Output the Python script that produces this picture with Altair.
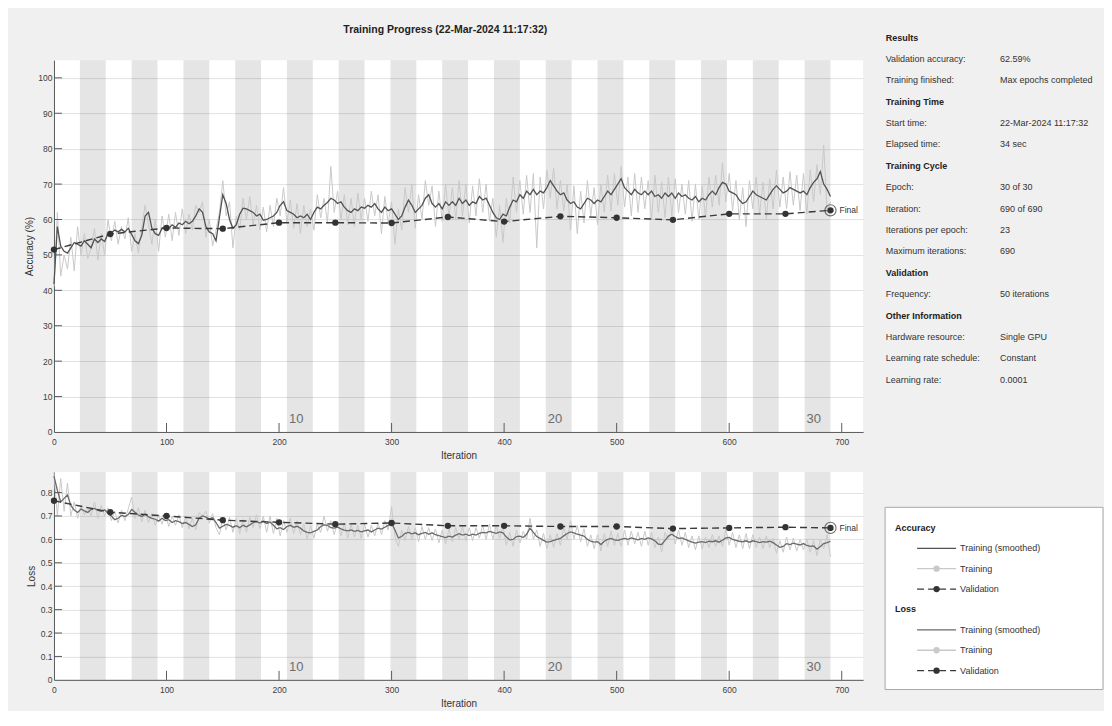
import altair as alt
import pandas as pd

TITLE = "Training Progress (22-Mar-2024 11:17:32)"

# training curves, one value every SAMPLE_STEP iterations (0 .. 690)
SAMPLE_STEP = 3
ACC_SMOOTH = [
    41.8, 58.0, 52.5, 51.0, 50.5, 52.0, 53.5, 53.0, 52.5, 54.0,
    53.0, 52.0, 54.5, 53.5, 54.5, 53.8, 56.0, 56.2, 57.0, 56.5,
    57.2, 56.5, 57.5, 55.8, 54.0, 53.2, 55.5, 61.0, 62.0, 57.5,
    56.0, 55.5, 57.5, 58.0, 57.5, 58.5, 57.8, 59.0, 58.5, 59.5,
    58.8, 59.5, 61.0, 63.0, 62.0, 58.0, 56.5, 56.0, 54.0, 60.5,
    67.0, 64.5, 60.0, 57.5, 58.5, 61.5, 63.2, 63.0, 62.5, 62.0,
    61.0, 61.5, 59.8, 60.0, 60.5, 61.0, 62.0, 64.0, 65.0, 62.5,
    62.0, 61.5, 60.5, 61.0, 60.5, 61.5, 60.0, 62.0, 63.5, 63.0,
    64.0, 64.8, 66.0, 65.5, 64.5, 65.0, 63.5, 62.5, 62.0, 63.0,
    62.5, 63.5, 63.2, 64.0, 63.5, 64.5, 63.0, 62.0, 63.5, 62.5,
    63.0, 61.5, 60.0, 61.0, 63.5, 65.5, 64.0, 62.0, 63.0, 64.0,
    66.0, 67.0, 64.5, 63.5, 64.5, 63.0, 65.0, 64.0, 65.0, 64.0,
    66.0, 64.5, 65.5, 64.0, 65.0, 64.5, 66.5, 65.5, 66.0, 64.0,
    62.0, 60.5, 60.0, 61.5, 61.0, 63.5, 65.5, 65.0, 67.0, 66.0,
    68.0, 67.0, 68.5, 67.0, 68.0, 67.5, 69.0, 71.0, 69.5, 68.0,
    67.0, 67.5, 65.5, 64.5, 65.0, 63.5, 63.0, 64.5, 66.0, 65.5,
    64.5, 65.5, 65.0, 66.5, 68.0, 67.0, 68.5, 70.0, 71.5, 69.0,
    68.0, 67.0, 68.5, 67.5, 67.0, 68.0, 67.0, 68.0, 66.5, 67.0,
    66.0, 67.5, 66.5, 67.5, 66.0, 67.5, 66.5, 67.0, 66.0, 65.5,
    66.5, 65.0, 66.0, 65.5, 67.0, 68.0, 67.0, 69.0, 70.5, 70.0,
    68.0, 67.5, 67.0, 65.5, 64.5, 65.0, 66.5, 68.0, 67.0, 66.5,
    66.0, 65.5, 67.0, 68.5, 69.5, 68.5, 67.5, 68.0, 69.0, 68.5,
    68.0, 67.5, 68.0, 67.0, 69.0, 70.5, 71.5, 73.5, 70.0, 68.5,
    66.5,
]
ACC_RAW = [
    41.0, 62.0, 44.0, 50.0, 46.0, 55.0, 45.5, 58.0, 50.0, 56.0,
    49.0, 52.0, 57.5, 48.5, 56.0, 50.0, 60.0, 54.0, 59.5, 53.0,
    58.0, 54.5, 60.5, 51.0, 56.0, 50.5, 58.0, 64.0, 58.5, 53.0,
    60.0, 51.0, 61.0, 55.0, 61.5, 54.0, 62.0, 55.5, 63.0, 56.0,
    61.5, 57.0, 64.0, 62.0, 65.0, 55.0, 60.0, 52.5, 57.0, 62.0,
    71.0, 61.0, 65.0, 52.0, 61.0, 57.0, 66.0, 60.0, 66.5, 58.5,
    64.0, 57.0, 63.5, 56.5, 64.0, 58.0, 66.0, 61.0, 69.0, 59.0,
    65.5, 57.5, 64.5, 56.0, 64.0, 58.0, 63.0, 57.0, 67.0, 60.5,
    66.0, 59.0, 75.0, 62.0, 68.0, 60.0, 67.0, 58.5, 66.0, 58.0,
    67.5, 60.0, 66.0, 59.5, 68.0, 61.0, 67.0, 56.0, 66.5, 59.0,
    65.0, 53.0, 63.0, 57.0, 69.0, 62.0, 70.0, 57.5, 67.0, 60.0,
    71.0, 64.0, 69.5, 58.0, 68.0, 59.5, 70.0, 60.5, 69.0, 60.0,
    71.0, 61.0, 70.0, 59.0, 69.5, 61.0, 71.5, 62.0, 70.0, 59.5,
    66.0, 55.0, 64.0, 53.5, 66.0, 59.0, 72.0, 62.0, 71.0, 61.5,
    72.5, 62.0, 73.0, 52.0, 72.0, 63.0, 74.0, 66.0, 74.5, 63.0,
    71.0, 62.5, 70.0, 57.0, 69.5, 56.0, 68.0, 59.0, 71.0, 61.0,
    69.0, 58.5, 70.0, 62.0, 72.5, 62.5, 73.0, 64.0, 75.0, 63.5,
    72.0, 61.0, 73.0, 62.0, 72.0, 63.0, 71.0, 60.0, 72.5, 62.0,
    70.5, 60.5, 72.0, 61.0, 71.5, 62.0, 70.0, 61.5, 71.0, 59.5,
    70.0, 60.0, 69.5, 60.5, 72.0, 63.5, 72.5, 64.0, 76.0, 65.0,
    73.0, 62.5, 71.0, 60.0, 69.0, 58.0, 71.0, 63.0, 72.0, 61.5,
    70.5, 60.0, 71.5, 63.0, 74.0, 63.5, 72.0, 63.0, 73.5, 64.0,
    72.5, 62.5, 73.0, 61.5, 74.0, 65.0, 75.5, 67.0, 81.0, 62.0,
    65.0,
]
LOSS_SMOOTH = [
    0.870, 0.810, 0.760, 0.775, 0.790, 0.745, 0.725, 0.715, 0.730, 0.722,
    0.715, 0.728, 0.732, 0.724, 0.720, 0.726, 0.712, 0.700, 0.684, 0.690,
    0.702, 0.698, 0.706, 0.728, 0.716, 0.704, 0.698, 0.708, 0.696, 0.690,
    0.686, 0.678, 0.690, 0.680, 0.684, 0.672, 0.680, 0.676, 0.668, 0.672,
    0.664, 0.655, 0.662, 0.690, 0.700, 0.695, 0.688, 0.692, 0.672, 0.648,
    0.656, 0.664, 0.660, 0.652, 0.658, 0.650, 0.660, 0.654, 0.662, 0.672,
    0.676, 0.670, 0.678, 0.668, 0.674, 0.660, 0.645, 0.650, 0.642, 0.655,
    0.660, 0.652, 0.656, 0.648, 0.636, 0.630, 0.628, 0.634, 0.640, 0.655,
    0.662, 0.660, 0.650, 0.648, 0.652, 0.645, 0.640, 0.636, 0.640, 0.634,
    0.638, 0.632, 0.636, 0.640, 0.632, 0.640, 0.648, 0.644, 0.652, 0.660,
    0.668, 0.640, 0.606, 0.612, 0.626, 0.630, 0.624, 0.628, 0.620, 0.626,
    0.630, 0.622, 0.628, 0.620, 0.616, 0.612, 0.608, 0.614, 0.610, 0.618,
    0.624, 0.618, 0.622, 0.616, 0.622, 0.618, 0.626, 0.630, 0.628, 0.634,
    0.630, 0.626, 0.632, 0.628, 0.610, 0.598, 0.600, 0.612, 0.614, 0.608,
    0.622, 0.648, 0.630, 0.612, 0.604, 0.596, 0.588, 0.590, 0.596, 0.600,
    0.604, 0.615, 0.625, 0.632, 0.628, 0.622, 0.618, 0.614, 0.600, 0.592,
    0.588, 0.590, 0.578, 0.592, 0.600, 0.604, 0.598, 0.596, 0.600, 0.604,
    0.600, 0.606, 0.602, 0.598, 0.604, 0.600, 0.606, 0.602, 0.594, 0.580,
    0.578, 0.596, 0.614, 0.622, 0.612, 0.604, 0.606, 0.600, 0.594, 0.588,
    0.584, 0.588, 0.590, 0.586, 0.592, 0.590, 0.594, 0.588, 0.596, 0.606,
    0.608, 0.600, 0.596, 0.592, 0.590, 0.594, 0.588, 0.594, 0.590, 0.586,
    0.590, 0.588, 0.592, 0.586, 0.576, 0.566, 0.570, 0.582, 0.578, 0.584,
    0.580, 0.576, 0.582, 0.574, 0.570, 0.572, 0.558, 0.570, 0.582, 0.586,
    0.592,
]
LOSS_RAW = [
    0.885, 0.700, 0.860, 0.720, 0.840, 0.700, 0.760, 0.690, 0.745, 0.705,
    0.735, 0.700, 0.760, 0.690, 0.745, 0.700, 0.735, 0.680, 0.720, 0.670,
    0.725, 0.680, 0.730, 0.780, 0.690, 0.735, 0.675, 0.725, 0.672, 0.710,
    0.660, 0.705, 0.665, 0.710, 0.655, 0.700, 0.660, 0.705, 0.650, 0.695,
    0.645, 0.690, 0.640, 0.715, 0.700, 0.720, 0.670, 0.710, 0.650, 0.620,
    0.690, 0.640, 0.695, 0.630, 0.690, 0.625, 0.685, 0.630, 0.695, 0.650,
    0.705, 0.645, 0.700, 0.630, 0.700, 0.625, 0.690, 0.615, 0.680, 0.630,
    0.690, 0.625, 0.680, 0.620, 0.665, 0.600, 0.660, 0.605, 0.665, 0.630,
    0.700, 0.635, 0.680, 0.620, 0.675, 0.615, 0.670, 0.605, 0.665, 0.610,
    0.660, 0.605, 0.665, 0.610, 0.660, 0.615, 0.670, 0.620, 0.680, 0.640,
    0.740, 0.610, 0.570, 0.640, 0.595, 0.655, 0.600, 0.650, 0.590, 0.655,
    0.600, 0.650, 0.595, 0.645, 0.585, 0.640, 0.580, 0.645, 0.590, 0.650,
    0.600, 0.655, 0.595, 0.650, 0.595, 0.650, 0.605, 0.660, 0.600, 0.665,
    0.600, 0.660, 0.605, 0.655, 0.575, 0.630, 0.570, 0.640, 0.585, 0.635,
    0.600, 0.690, 0.600, 0.640, 0.570, 0.625, 0.560, 0.620, 0.565, 0.625,
    0.575, 0.650, 0.600, 0.680, 0.600, 0.660, 0.590, 0.645, 0.570, 0.620,
    0.560, 0.620, 0.550, 0.625, 0.570, 0.635, 0.575, 0.625, 0.570, 0.640,
    0.575, 0.635, 0.580, 0.630, 0.570, 0.635, 0.575, 0.630, 0.565, 0.610,
    0.545, 0.630, 0.600, 0.655, 0.580, 0.640, 0.575, 0.630, 0.565, 0.615,
    0.555, 0.615, 0.560, 0.610, 0.565, 0.620, 0.570, 0.615, 0.570, 0.645,
    0.575, 0.630, 0.565, 0.620, 0.560, 0.625, 0.560, 0.620, 0.565, 0.610,
    0.560, 0.615, 0.565, 0.605, 0.540, 0.595, 0.545, 0.610, 0.555, 0.605,
    0.550, 0.600, 0.555, 0.600, 0.545, 0.595, 0.530, 0.600, 0.560, 0.620,
    0.525,
]

VAL_ITERS = [0, 50, 100, 150, 200, 250, 300, 350, 400, 450, 500, 550, 600, 650, 690]
VAL_ACC = [51.5, 55.9, 57.6, 57.4, 59.1, 59.1, 59.0, 60.7, 59.4, 60.9, 60.5, 59.9, 61.6, 61.6, 62.59]
VAL_LOSS = [0.765, 0.716, 0.700, 0.682, 0.673, 0.665, 0.670, 0.658, 0.658, 0.655, 0.655, 0.646, 0.649, 0.652, 0.649]

ITERS_PER_EPOCH = 23
N_EPOCHS = 30
EPOCH_LABELS = [10, 20, 30]
X_TICKS = [0, 100, 200, 300, 400, 500, 600, 700]
ACC_TICKS = [0, 10, 20, 30, 40, 50, 60, 70, 80, 90, 100]
LOSS_TICKS = [0, 0.1, 0.2, 0.3, 0.4, 0.5, 0.6, 0.7, 0.8]

INFO_LABELS = ["Results", "Validation accuracy:", "Training finished:", "Training Time",
               "Start time:", "Elapsed time:", "Training Cycle", "Epoch:", "Iteration:",
               "Iterations per epoch:", "Maximum iterations:", "Validation", "Frequency:",
               "Other Information", "Hardware resource:", "Learning rate schedule:", "Learning rate:"]
INFO_VALUES = ["", "62.59%", "Max epochs completed", "", "22-Mar-2024 11:17:32", "34 sec", "",
               "30 of 30", "690 of 690", "23", "690", "", "50 iterations", "", "Single GPU",
               "Constant", "0.0001"]
INFO_HEADER = [True, False, False, True, False, False, True, False, False, False, False,
               True, False, True, False, False, False]

LEGEND_LABELS = ["Accuracy", "Training (smoothed)", "Training", "Validation",
                 "Loss", "Training (smoothed)", "Training", "Validation"]
LEGEND_KINDS = ["header", "acc_smooth", "train", "val", "header", "loss_smooth", "train", "val"]

# ---------------- layout / style ----------------
FONT = "Liberation Sans"
W, H1, H2, GAP = 809.5, 372, 208, 40
X_MAX = 719
RAW_COLOR = "#c9c9c9"
ACC_SMOOTH_COLOR = "#525252"
LOSS_SMOOTH_COLOR = "#6a6a6a"
VAL_COLOR = "#3a3a3a"
AXIS_COLOR = "#5a5a5a"
LABEL_COLOR = "#404040"

xs = alt.Scale(domain=[0, X_MAX], nice=False, zero=False)


def x_axis():
    return alt.Axis(title="Iteration", values=X_TICKS, grid=False, ticks=False,
                    domainColor=AXIS_COLOR, labelFont=FONT, labelFontSize=8.5,
                    labelColor=LABEL_COLOR, labelPadding=6, labelFlush=False,
                    titleFont=FONT, titleFontSize=10, titleFontWeight="normal",
                    titleColor="#333333", titleY=24, titleBaseline="middle")


def y_axis(title, values, h, tx):
    return alt.Axis(title=title, values=values, format=".1~f", grid=True, gridColor="#e2e2e2",
                    ticks=False, domainColor=AXIS_COLOR, labelFont=FONT, labelFontSize=8.5,
                    labelColor=LABEL_COLOR, labelPadding=2,
                    titleFont=FONT, titleFontSize=10, titleFontWeight="normal",
                    titleColor="#333333", titleX=tx, titleY=h / 2, titleAngle=-90,
                    titleAlign="center", titleBaseline="middle")


band_df = pd.DataFrame({
    "start": [(e - 1) * ITERS_PER_EPOCH for e in range(2, N_EPOCHS + 1, 2)],
    "end": [e * ITERS_PER_EPOCH for e in range(2, N_EPOCHS + 1, 2)],
})
epoch_df = pd.DataFrame({
    "iter": [(e - 1) * ITERS_PER_EPOCH for e in EPOCH_LABELS],
    "label": [str(e) for e in EPOCH_LABELS],
})


def panel(raw, smooth, val, ticks, yscale, yaxis, h, smooth_color):
    X = lambda f: alt.X(f, type="quantitative", scale=xs, axis=x_axis())
    Y = lambda f: alt.Y(f, type="quantitative", scale=yscale, axis=yaxis)
    raw_df = pd.DataFrame({"iter": [i * SAMPLE_STEP for i in range(len(raw))], "v": raw})
    sm_df = pd.DataFrame({"iter": [i * SAMPLE_STEP for i in range(len(smooth))], "v": smooth})
    val_df = pd.DataFrame({"iter": VAL_ITERS, "v": val})
    fin_df = val_df.tail(1)

    bands = alt.Chart(band_df).mark_rect(color="black", opacity=0.1).encode(
        x=X("start"), x2="end", y=alt.value(0), y2=alt.value(h))
    raw_l = alt.Chart(raw_df).mark_line(color=RAW_COLOR, strokeWidth=1).encode(x=X("iter"), y=Y("v"))
    sm_l = alt.Chart(sm_df).mark_line(color=smooth_color, strokeWidth=1.3).encode(x=X("iter"), y=Y("v"))
    val_l = alt.Chart(val_df).mark_line(color=VAL_COLOR, strokeDash=[7, 4], strokeWidth=1.4).encode(
        x=X("iter"), y=Y("v"))
    val_p = alt.Chart(val_df).mark_circle(color="#333333", size=40, opacity=1).encode(x=X("iter"), y=Y("v"))
    fin_p = alt.Chart(fin_df).mark_point(shape="circle", filled=False, color="#333333", size=125,
                                         strokeWidth=1.1).encode(x=X("iter"), y=Y("v"))
    fin_t = alt.Chart(fin_df).mark_text(align="left", baseline="middle", dx=9, font=FONT,
                                        fontSize=8.5, color="#333333").encode(
        x=X("iter"), y=Y("v"), text=alt.value("Final"))
    xt = alt.Chart(pd.DataFrame({"t": X_TICKS[1:]})).mark_rule(color=AXIS_COLOR).encode(
        x=X("t"), y=alt.value(h - 9), y2=alt.value(h))
    yt = alt.Chart(pd.DataFrame({"t": ticks[1:]})).mark_rule(color=AXIS_COLOR).encode(
        y=Y("t"), x=alt.value(0), x2=alt.value(8))
    ep = alt.Chart(epoch_df).mark_text(align="left", baseline="alphabetic", dx=2, font=FONT,
                                       fontSize=13, color="#6e6e6e").encode(
        x=X("iter"), y=alt.value(h - 8.6), text="label:N")
    return [bands, raw_l, sm_l, val_l, val_p, fin_p, fin_t, xt, yt, ep]


acc_layers = panel(ACC_RAW, ACC_SMOOTH, VAL_ACC, ACC_TICKS,
                   alt.Scale(domain=[0, 105], nice=False, zero=True),
                   y_axis("Accuracy (%)", ACC_TICKS, H1, -24.5), H1, ACC_SMOOTH_COLOR)
loss_layers = panel(LOSS_RAW, LOSS_SMOOTH, VAL_LOSS, LOSS_TICKS,
                    alt.Scale(domain=[0, 0.888], nice=False, zero=True),
                    y_axis("Loss", LOSS_TICKS, H2, -22), H2, LOSS_SMOOTH_COLOR)

one = pd.DataFrame({"k": [0]})

# canvas frame (transparent) so the whole grey panel keeps its size
frame = alt.Chart(one).mark_rect(opacity=0).encode(
    x=alt.value(-45.5), x2=alt.value(1050.5), y=alt.value(-51.3), y2=alt.value(650.7))
title = alt.Chart(one).mark_text(font=FONT, fontSize=10.5, fontWeight="bold", color="#222222").encode(
    x=alt.value(391.5), y=alt.value(-30), text=alt.value(TITLE))

info_df = pd.DataFrame({"label": INFO_LABELS, "value": INFO_VALUES, "header": INFO_HEADER})
info_df["py"] = [-22.6 + 21.4 * i for i in range(len(info_df))]
PY = alt.Y("py:Q", scale=None, axis=None)
info_h = alt.Chart(info_df).transform_filter("datum.header").mark_text(
    align="left", baseline="middle", font=FONT, fontSize=9, fontWeight="bold", color="#222222").encode(
    x=alt.value(832.2), y=PY, text="label:N")
info_l = alt.Chart(info_df).transform_filter("!datum.header").mark_text(
    align="left", baseline="middle", font=FONT, fontSize=9, color="#333333").encode(
    x=alt.value(832.2), y=PY, text="label:N")
info_v = alt.Chart(info_df).transform_filter("!datum.header").mark_text(
    align="left", baseline="middle", font=FONT, fontSize=9, color="#333333").encode(
    x=alt.value(946.5), y=PY, text="value:N")

top = alt.layer(frame, *acc_layers, title, info_h, info_l, info_v).properties(width=W, height=H1)

leg_df = pd.DataFrame({"label": LEGEND_LABELS, "kind": LEGEND_KINDS})
leg_df["py"] = [56.0 + 20.4 * i for i in range(len(leg_df))]
leg_box = alt.Chart(one).mark_rect(fill="white", stroke="#a8a8a8", strokeWidth=1).encode(
    x=alt.value(831.5), x2=alt.value(1049.5), y=alt.value(35.4), y2=alt.value(217.7))
leg_head = alt.Chart(leg_df).transform_filter("datum.kind == 'header'").mark_text(
    align="left", baseline="middle", font=FONT, fontSize=9, fontWeight="bold", color="#222222").encode(
    x=alt.value(841.5), y=PY, text="label:N")
leg_lab = alt.Chart(leg_df).transform_filter("datum.kind != 'header'").mark_text(
    align="left", baseline="middle", font=FONT, fontSize=9, color="#333333").encode(
    x=alt.value(906.5), y=PY, text="label:N")


def leg_rule(kind, color, width=1.3, dash=None):
    kw = dict(color=color, strokeWidth=width)
    if dash:
        kw["strokeDash"] = dash
    return alt.Chart(leg_df).transform_filter(f"datum.kind == '{kind}'").mark_rule(**kw).encode(
        x=alt.value(863.5), x2=alt.value(902.5), y=PY)


def leg_dot(kind, color):
    return alt.Chart(leg_df).transform_filter(f"datum.kind == '{kind}'").mark_circle(
        color=color, size=40, opacity=1).encode(x=alt.value(883), y=PY)


legend = [leg_box, leg_head, leg_lab,
          leg_rule("acc_smooth", ACC_SMOOTH_COLOR), leg_rule("loss_smooth", LOSS_SMOOTH_COLOR),
          leg_rule("train", RAW_COLOR), leg_dot("train", RAW_COLOR),
          leg_rule("val", VAL_COLOR, 1.4, [7, 4]), leg_dot("val", "#333333")]

bottom = alt.layer(*loss_layers, *legend).properties(width=W, height=H2)

chart = alt.vconcat(top, bottom, spacing=GAP, bounds="flush").properties(
    padding=0, background="#f0f0f0").configure_view(fill="white", stroke=None)

chart.save("out.html", embed_options={"renderer": "svg", "actions": False})
